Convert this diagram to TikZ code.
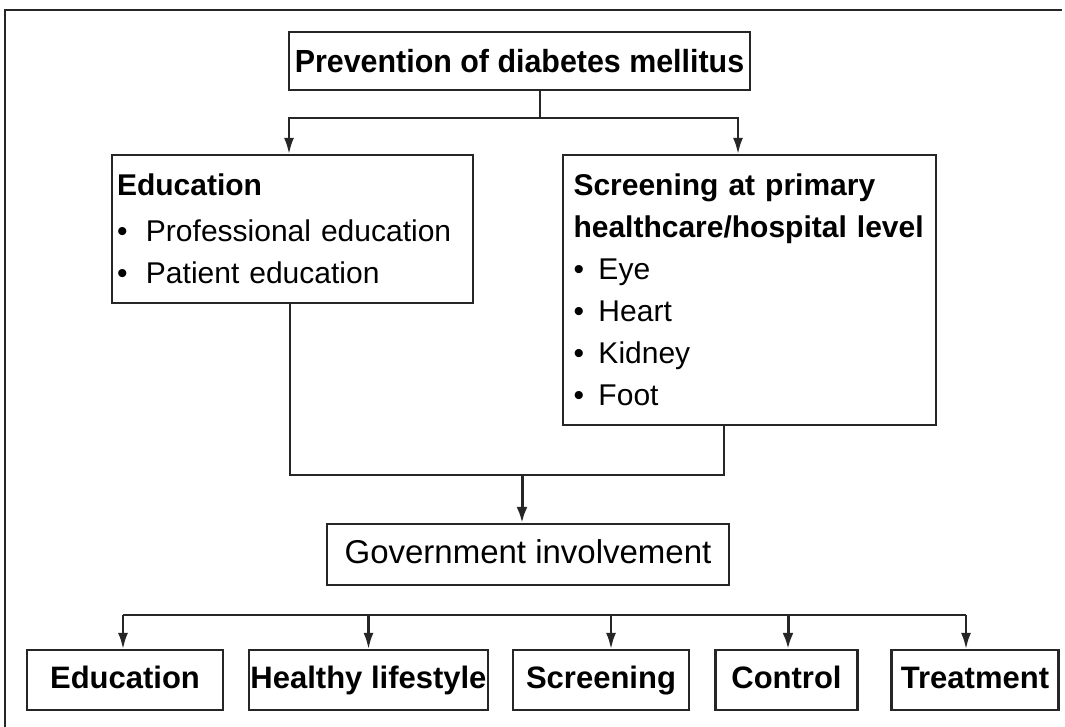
\documentclass[tikz,border=0pt]{standalone}
\usepackage{fontspec}
\setmainfont{Liberation Sans}
\newfontfamily\condbf[FakeStretch=0.95]{Liberation Sans}
\usetikzlibrary{arrows.meta}
\tikzset{
  box/.style={draw=black!85, line width=2.2pt, rectangle, inner sep=0pt},
  conn/.style={draw=black!85, line width=2.2pt},
  arr/.style={conn, -{Latex[length=16pt,width=10pt]}},
  thickarr/.style={draw=black!85, line width=3pt, -{Latex[length=16pt,width=11pt]}},
  titlefont/.style={font=\condbf\fontsize{32}{38}\selectfont\bfseries},
  leaffont/.style={font=\fontsize{31}{37}\selectfont\bfseries, text height=23pt, text depth=7pt},
  bodyfont/.style={font=\fontsize{30}{42}\selectfont},
}
\begin{document}
\begin{tikzpicture}[x=1pt,y=-1pt]
\useasboundingbox (0,0) rectangle (1065,727);
% outer frame (left and top only visible)
\draw[line width=2.2pt, black!85] (5,727) -- (5,10) -- (1062,10);

% top node
\node[box, titlefont, minimum width=461pt, minimum height=58pt] (top) at (519.5,61) {Prevention of diabetes mellitus};

% education box
\node[box, bodyfont, minimum width=361pt, minimum height=148pt, text width=351pt, inner xsep=5pt, align=left] (edu) at (292.5,229)
{{\bfseries Education}\\[4pt]
\makebox[29pt][l]{•}Professional education\\
\makebox[29pt][l]{•}Patient education};

% screening box
\node[box, bodyfont, minimum width=373pt, minimum height=270pt, text width=352pt, inner xsep=10.5pt, align=left] (scr) at (749.5,290)
{{\bfseries Screening at primary}\\
{\bfseries healthcare/hospital level}\\
\makebox[25pt][l]{•}Eye\\
\makebox[25pt][l]{•}Heart\\
\makebox[25pt][l]{•}Kidney\\
\makebox[25pt][l]{•}Foot};

% government
\node[box, font=\fontsize{33}{40}\selectfont, text height=24pt, text depth=7pt, minimum width=402pt, minimum height=61pt] (gov) at (528,554.5) {Government involvement};

% bottom row
\node[box, leaffont, minimum width=196pt, minimum height=60pt] (b1) at (125,680) {Education};
\node[box, leaffont, minimum width=239pt, minimum height=60pt] (b2) at (368.5,680) {Healthy lifestyle};
\node[box, leaffont, minimum width=176pt, minimum height=60pt] (b3) at (601,680) {Screening};
\node[box, leaffont, minimum width=142pt, minimum height=60pt] (b4) at (786.5,680) {Control};
\node[box, leaffont, minimum width=167pt, minimum height=60pt] (b5) at (975,680) {Treatment};

% top connectors
\coordinate (j1) at (540,118);
\draw[conn] ([xshift=20.5pt]top.south) -- (j1);
\draw[arr] (j1) -| ([xshift=-3.5pt]edu.north);
\draw[arr] (j1) -| ([xshift=-11.5pt]scr.north);

% merge to government
\coordinate (j2) at (522,475);
\draw[conn] ([xshift=-2.5pt]edu.south) |- (j2) -| ([xshift=-25.5pt]scr.south);
\draw[thickarr] (j2) -- ([xshift=-6pt]gov.north);

% bottom bus
\coordinate (busL) at (123,615);
\coordinate (busR) at (966,615);
\draw[conn] (busL) -- (busR);
\draw[arr] (busL) -- ([xshift=-2pt]b1.north);
\draw[arr] (b2.north |- busL) -- (b2.north);
\draw[arr] ([xshift=10pt]b3.north |- busL) -- ([xshift=10pt]b3.north);
\draw[thickarr] ([xshift=1.5pt]b4.north |- busL) -- ([xshift=1.5pt]b4.north);
\draw[arr] (busR) -- ([xshift=-9pt]b5.north);
\end{tikzpicture}
\end{document}
